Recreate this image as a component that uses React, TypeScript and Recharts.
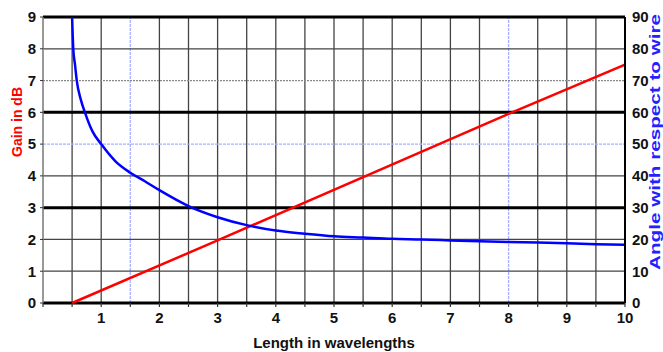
import React from 'react';
import { ComposedChart, Line, XAxis, YAxis, ReferenceLine } from 'recharts';

// Gain (dB) vs length in wavelengths (red)
const gainLengths = [0.5, 3, 8, 10];
const gainValues = [0, 1.97, 5.95, 7.5];

// Angle of max radiation with respect to wire (blue, right axis)
const angleLengths = [0.5, 0.52, 0.55, 0.58, 0.65, 0.72, 0.85, 1.0, 1.25, 1.5, 1.75, 2.0, 2.5, 3.0, 3.5, 4.0, 4.5, 5.0, 5.5, 6.0, 6.5, 7.0, 7.5, 8.0, 8.5, 9.0, 9.5, 10];
const angleValues = [90, 80, 75, 70, 64, 60, 54, 50, 44.5, 41, 38.3, 35.5, 30.5, 27, 24.5, 22.8, 21.8, 21, 20.6, 20.2, 20, 19.7, 19.4, 19.2, 19, 18.8, 18.5, 18.3];

const xTicks = [0, 0.5, 1, 1.5, 2, 2.5, 3, 3.5, 4, 4.5, 5, 5.5, 6, 6.5, 7, 7.5, 8, 8.5, 9, 9.5, 10];
const leftTicks = [0, 1, 2, 3, 4, 5, 6, 7, 8, 9];
const rightTicks = [0, 10, 20, 30, 40, 50, 60, 70, 80, 90];
const thickRows = [0, 3, 6, 9];
const thinRows = [1, 2, 4, 8];
const blueRows = [5];
const dashedRows = [7];
const verticals = [0.5, 1, 2, 2.5, 3, 3.5, 4, 4.5, 5, 5.5, 6, 6.5, 7, 7.5, 8.5, 9, 9.5];
const blueVerticals = [1.5, 8];

const gainData = gainLengths.map((x, i) => ({ x, gain: gainValues[i] }));
const angleData = angleLengths.map((x, i) => ({ x, angle: angleValues[i] }));

const FONT = '"Liberation Sans", Arial, sans-serif';

export default function App() {
  return (
    <div style={{ position: 'absolute', left: 0, top: 0, background: '#fff' }}>
      <ComposedChart width={663} height={352} margin={{ top: 17, right: 0, bottom: 0, left: 0 }}>
        <XAxis
          type="number"
          dataKey="x"
          domain={[0, 10]}
          ticks={xTicks}
          interval={0}
          allowDataOverflow
          height={49}
          axisLine={false}
          tickSize={4}
          tickMargin={5}
          tickLine={{ stroke: '#333', strokeWidth: 1.2 }}
          tickFormatter={(v: number) => (Number.isInteger(v) && v > 0 ? String(v) : '')}
          tick={{ fill: '#111', fontSize: 15, fontWeight: 'bold', fontFamily: FONT }}
          label={{
            content: (p: any) => {
              const vb = p.viewBox;
              return (
                <text x={vb.x + vb.width / 2} y={vb.y + vb.height - 4} textAnchor="middle" fill="#111" fontSize={15} fontWeight="bold" fontFamily={FONT}>
                  Length in wavelengths
                </text>
              );
            },
          }}
        />
        <YAxis
          yAxisId="left"
          type="number"
          domain={[0, 9]}
          ticks={leftTicks}
          interval={0}
          width={43}
          axisLine={{ stroke: '#777', strokeWidth: 1.5 }}
          tickSize={3}
          tickMargin={4}
          tickLine={{ stroke: '#333' }}
          tick={{ fill: '#111', fontSize: 15, fontWeight: 'bold', fontFamily: FONT }}
          label={{
            content: (p: any) => {
              const vb = p.viewBox;
              const cx = 22;
              const cy = vb.y + 105;
              return (
                <text x={cx} y={cy} transform={`rotate(-90 ${cx} ${cy})`} textAnchor="middle" fill="#ff0000" fontSize={14} fontWeight="bold" fontFamily={FONT}>
                  Gain in dB
                </text>
              );
            },
          }}
        />
        <YAxis
          yAxisId="right"
          orientation="right"
          type="number"
          domain={[0, 90]}
          ticks={rightTicks}
          interval={0}
          width={38}
          axisLine={{ stroke: '#000', strokeWidth: 2 }}
          tickLine={false}
          tickMargin={1}
          tick={{ fill: '#111', fontSize: 15, fontWeight: 'bold', fontFamily: FONT }}
          label={{
            content: (p: any) => {
              const vb = p.viewBox;
              const cx = 660;
              const cy = vb.y + 125;
              return (
                <text x={cx} y={cy} transform={`rotate(-90 ${cx} ${cy})`} textAnchor="middle" fill="#2222ff" fontSize={14} fontWeight="bold" fontFamily={FONT} textLength={256} lengthAdjust="spacingAndGlyphs">
                  Angle with respect to wire
                </text>
              );
            },
          }}
        />
        {verticals.map((v) => (
          <ReferenceLine key={'v' + v} x={v} yAxisId="left" stroke="#444" strokeWidth={1.3} />
        ))}
        {blueVerticals.map((v) => (
          <ReferenceLine key={'bv' + v} x={v} yAxisId="left" stroke="#a8b0ff" strokeWidth={1.3} strokeDasharray="3 1" />
        ))}
        {thinRows.map((v) => (
          <ReferenceLine key={'h' + v} y={v} yAxisId="left" stroke="#444" strokeWidth={1.3} />
        ))}
        {blueRows.map((v) => (
          <ReferenceLine key={'bh' + v} y={v} yAxisId="left" stroke="#a8b0ff" strokeWidth={1.3} strokeDasharray="3 1" />
        ))}
        {dashedRows.map((v) => (
          <ReferenceLine key={'dh' + v} y={v} yAxisId="left" stroke="#888" strokeWidth={1.3} strokeDasharray="2 1" />
        ))}
        {thickRows.map((v) => (
          <ReferenceLine key={'t' + v} y={v} yAxisId="left" stroke="#000" strokeWidth={3} />
        ))}
        <Line
          data={gainData}
          yAxisId="left"
          dataKey="gain"
          type="linear"
          stroke="#ff0000"
          strokeWidth={2.5}
          dot={false}
          isAnimationActive={false}
        />
        <Line
          data={angleData}
          yAxisId="right"
          dataKey="angle"
          type="monotone"
          stroke="#0000ff"
          strokeWidth={2.5}
          dot={false}
          isAnimationActive={false}
        />
      </ComposedChart>
    </div>
  );
}
